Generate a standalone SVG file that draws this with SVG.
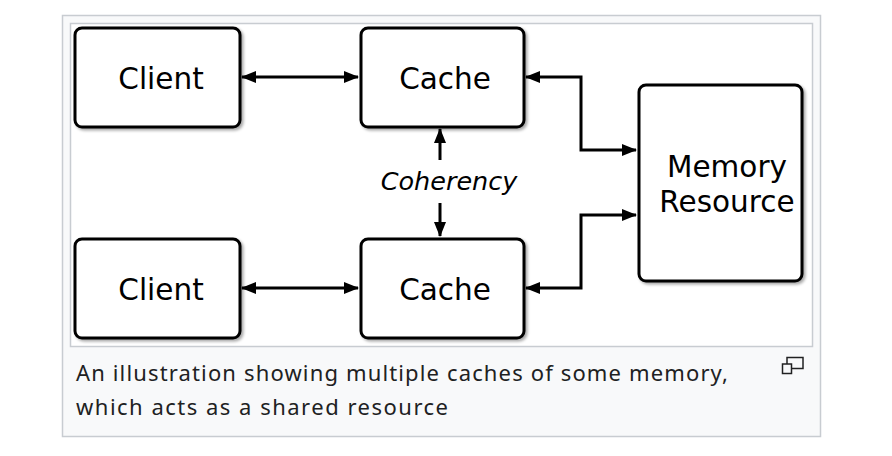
<svg xmlns="http://www.w3.org/2000/svg" width="892" height="456" viewBox="0 0 892 456">
<defs>
<style>
.box{fill:#fff;stroke:#000;stroke-width:3;filter:url(#sh)}
.lbl{font-family:"DejaVu Sans",sans-serif;font-size:29.5px;fill:#000;text-anchor:middle}
.con{fill:none;stroke:#000;stroke-width:3;marker-start:url(#ah);marker-end:url(#ah)}
.cap{font-family:"Noto Sans","Liberation Sans",sans-serif;font-size:22px;fill:#202122}
</style>
<filter id="sh" x="-10%" y="-10%" width="125%" height="125%">
<feGaussianBlur in="SourceAlpha" stdDeviation="1.5"/>
<feOffset dx="2" dy="2" result="b"/>
<feComponentTransfer><feFuncA type="linear" slope="0.35"/></feComponentTransfer>
<feMerge><feMergeNode/><feMergeNode in="SourceGraphic"/></feMerge>
</filter>
<marker id="ah" viewBox="0 0 15 12" refX="14" refY="6" markerWidth="15" markerHeight="12" markerUnits="userSpaceOnUse" orient="auto-start-reverse">
<path d="M0,0 L15,6 L0,12 Z" fill="#000"/>
</marker>
</defs>
<rect x="0" y="0" width="892" height="456" fill="#fff"/>
<rect x="62.5" y="15.5" width="758" height="421" fill="#f8f9fa" stroke="#c8ccd1" stroke-width="1.5"/>
<rect x="70.5" y="23.5" width="742" height="323" fill="#fff" stroke="#c8ccd1" stroke-width="1.5"/>

<g id="connectors">
<path class="con" d="M242,77 L358,77"/>
<path class="con" d="M242,288 L358,288"/>
<path class="con" d="M526,77 L581,77 L581,150 L636,150"/>
<path class="con" d="M526,288 L581,288 L581,215 L636,215"/>
<path d="M440,160 L440,129" fill="none" stroke="#000" stroke-width="3" marker-end="url(#ah)"/>
<path d="M440,203 L440,236" fill="none" stroke="#000" stroke-width="3" marker-end="url(#ah)"/>
</g>

<g id="client1">
<rect class="box" x="75" y="28" width="165" height="99" rx="7"/>
<text class="lbl" x="161" y="89">Client</text>
</g>
<g id="cache1">
<rect class="box" x="361" y="28" width="163" height="99" rx="7"/>
<text class="lbl" x="445" y="89">Cache</text>
</g>
<g id="client2">
<rect class="box" x="75" y="239" width="165" height="99" rx="7"/>
<text class="lbl" x="161" y="300">Client</text>
</g>
<g id="cache2">
<rect class="box" x="361" y="239" width="163" height="99" rx="7"/>
<text class="lbl" x="445" y="300">Cache</text>
</g>
<g id="memory">
<rect class="box" x="639" y="85" width="163" height="196" rx="7"/>
<text class="lbl" x="727" y="177">Memory</text>
<text class="lbl" x="727" y="212">Resource</text>
</g>
<g id="coherency">
<text x="449" y="190" font-family="DejaVu Sans,sans-serif" font-style="italic" font-size="25.5" text-anchor="middle">Coherency</text>
</g>

<g id="caption">
<text class="cap" x="76" y="381" textLength="652" lengthAdjust="spacing">An illustration showing multiple caches of some memory,</text>
<text class="cap" x="76" y="415" textLength="372" lengthAdjust="spacing">which acts as a shared resource</text>
<rect x="787" y="357.5" width="16" height="11" fill="none" stroke="#202122" stroke-width="1.5"/>
<rect x="782.5" y="364" width="9" height="9.5" fill="#f8f9fa" stroke="#202122" stroke-width="1.5"/>
</g>
</svg>
